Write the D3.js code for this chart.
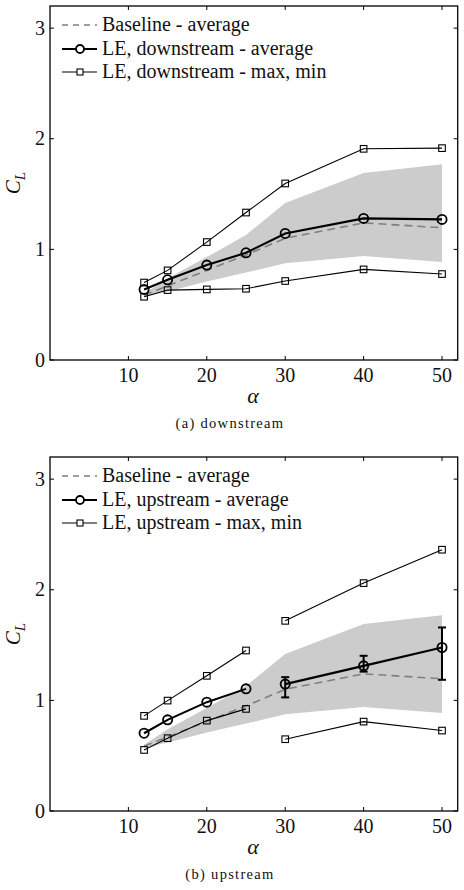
<!DOCTYPE html>
<html>
<head>
<meta charset="utf-8">
<script src="https://cdn.jsdelivr.net/npm/d3@7"></script>
<style>
  body { margin: 0; background: #fff; }
  svg { display: block; }
  svg text { font-family: "Liberation Serif", "DejaVu Serif", "Times New Roman", Times, "Noto Serif", "FreeSerif", serif; }
</style>
</head>
<body>
<div class="charts-div"></div>
<script>
// angle of attack
const alpha = [12, 15, 20, 25, 30, 40, 50];

// baseline (shared by both panels)
const baseAvg = [0.585, 0.67, 0.81, 0.95, 1.10, 1.24, 1.195];
const baseMax = [0.60, 0.74, 0.93, 1.13, 1.42, 1.69, 1.77];
const baseMin = [0.57, 0.62, 0.71, 0.79, 0.875, 0.94, 0.885];

// LE, downstream
const downAvg = [0.638, 0.725, 0.858, 0.969, 1.144, 1.28, 1.271];
const downMax = [0.70, 0.81, 1.066, 1.333, 1.596, 1.909, 1.915];
const downMin = [0.572, 0.632, 0.638, 0.644, 0.714, 0.819, 0.777];

// LE, upstream (two separate runs: 12-25 and 30-50)
const upAvg = [0.703, 0.824, 0.984, 1.104, 1.147, 1.312, 1.478];
const upMax = [0.86, 0.998, 1.222, 1.451, 1.719, 2.06, 2.362];
const upMin = [0.552, 0.658, 0.817, 0.923, 0.649, 0.808, 0.727];
const upRuns = [[0, 4], [4, 7]];
const upErrAlpha = [30, 40, 50];
const upErrHi = [1.21, 1.403, 1.659];
const upErrLo = [1.027, 1.26, 1.186];

const xTicks = [10, 20, 30, 40, 50];
const yTicks = [0, 1, 2, 3];

const W = 464, H = 890;
const svg = d3.select(".charts-div").append("svg")
    .attr("width", W).attr("height", H);

const x = d3.scaleLinear().domain([0, 52]).range([50, 457.7]);

function panel(top, cfg) {
    const y = d3.scaleLinear().domain([0, 3.2]).range([top + 354, top]);
    const g = svg.append("g");
    const pts = (ys, a, b) => d3.range(a, b).map((i) => [alpha[i], ys[i]]);
    const line = d3.line().x((d) => x(d[0])).y((d) => y(d[1]));
    const txt = (sel) => sel.append("text").attr("fill", "#111");

    // baseline band
    const area = d3.area()
        .x((d, i) => x(alpha[i]))
        .y0((d, i) => y(baseMin[i]))
        .y1((d) => y(d));
    g.append("path").attr("d", area(baseMax)).attr("fill", "#cccccc");

    // baseline average
    g.append("path")
        .attr("d", line(pts(baseAvg, 0, alpha.length)))
        .attr("fill", "none").attr("stroke", "#7f7f7f")
        .attr("stroke-width", 1.6).attr("stroke-dasharray", "8,5");

    // max / min
    [cfg.max, cfg.min].forEach((ys) => {
        cfg.runs.forEach(([a, b]) => {
            g.append("path").attr("d", line(pts(ys, a, b)))
                .attr("fill", "none").attr("stroke", "#000").attr("stroke-width", 1.1);
        });
        g.selectAll(null).data(alpha.map((a, i) => [a, ys[i]])).enter()
            .append("rect")
            .attr("x", (d) => x(d[0]) - 3.3).attr("y", (d) => y(d[1]) - 3.3)
            .attr("width", 6.6).attr("height", 6.6)
            .attr("fill", "none").attr("stroke", "#000").attr("stroke-width", 1.1);
    });

    // average
    cfg.runs.forEach(([a, b]) => {
        g.append("path").attr("d", line(pts(cfg.avg, a, b)))
            .attr("fill", "none").attr("stroke", "#000").attr("stroke-width", 2.1);
    });
    g.selectAll(null).data(alpha.map((a, i) => [a, cfg.avg[i]])).enter()
        .append("circle")
        .attr("cx", (d) => x(d[0])).attr("cy", (d) => y(d[1])).attr("r", 4.6)
        .attr("fill", "none").attr("stroke", "#000").attr("stroke-width", 1.8);

    // error bars
    if (cfg.err) {
        cfg.err.a.forEach((a, i) => {
            const cx = x(a);
            const eb = g.append("g").attr("stroke", "#000").attr("stroke-width", 2);
            eb.append("line").attr("x1", cx).attr("x2", cx).attr("y1", y(cfg.err.hi[i])).attr("y2", y(cfg.err.lo[i]));
            [cfg.err.hi[i], cfg.err.lo[i]].forEach((v) => {
                eb.append("line").attr("x1", cx - 4).attr("x2", cx + 4).attr("y1", y(v)).attr("y2", y(v));
            });
        });
    }

    // frame and ticks
    const x0 = x.range()[0], x1 = x.range()[1], y0 = y.range()[0], y1 = y.range()[1];
    g.append("rect").attr("x", x0).attr("y", y1).attr("width", x1 - x0).attr("height", y0 - y1)
        .attr("fill", "none").attr("stroke", "#000").attr("stroke-width", 1.3);
    const tk = g.append("g").attr("stroke", "#000").attr("stroke-width", 1);
    xTicks.forEach((t) => {
        tk.append("line").attr("x1", x(t)).attr("x2", x(t)).attr("y1", y0).attr("y2", y0 - 4);
        tk.append("line").attr("x1", x(t)).attr("x2", x(t)).attr("y1", y1).attr("y2", y1 + 4);
    });
    yTicks.forEach((t) => {
        tk.append("line").attr("x1", x0).attr("x2", x0 + 4).attr("y1", y(t)).attr("y2", y(t));
        tk.append("line").attr("x1", x1).attr("x2", x1 - 4).attr("y1", y(t)).attr("y2", y(t));
    });

    xTicks.forEach((t) => {
        txt(g).attr("x", x(t)).attr("y", y0 + 22)
            .attr("text-anchor", "middle").attr("font-size", 20).text(t);
    });
    yTicks.forEach((t) => {
        txt(g).attr("x", x0 - 5).attr("y", y(t) + 6.5)
            .attr("text-anchor", "end").attr("font-size", 20).text(t);
    });

    txt(g).attr("x", 253).attr("y", y0 + 43)
        .attr("text-anchor", "middle").attr("font-size", 22).attr("font-style", "italic")
        .text("α");
    const yl = txt(g)
        .attr("transform", `translate(20,${top + 177}) rotate(-90)`)
        .attr("text-anchor", "middle").attr("font-size", 21).attr("font-style", "italic");
    yl.append("tspan").text("C");
    yl.append("tspan").attr("font-size", 15).attr("dy", 5).text("L");

    txt(g).attr("x", 230).attr("y", y0 + 68)
        .attr("text-anchor", "middle").attr("font-size", 14.5).attr("letter-spacing", 1.3)
        .text(cfg.caption);

    // legend
    const lg = g.append("g");
    const rows = [top + 19, top + 43, top + 66];
    lg.append("line").attr("x1", 62).attr("x2", 97).attr("y1", rows[0]).attr("y2", rows[0])
        .attr("stroke", "#7f7f7f").attr("stroke-width", 1.6).attr("stroke-dasharray", "6,5");
    lg.append("line").attr("x1", 62).attr("x2", 97).attr("y1", rows[1]).attr("y2", rows[1])
        .attr("stroke", "#000").attr("stroke-width", 2.1);
    lg.append("circle").attr("cx", 80).attr("cy", rows[1]).attr("r", 4)
        .attr("fill", "#fff").attr("stroke", "#000").attr("stroke-width", 1.8);
    lg.append("line").attr("x1", 62).attr("x2", 97).attr("y1", rows[2]).attr("y2", rows[2])
        .attr("stroke", "#000").attr("stroke-width", 1.1);
    lg.append("rect").attr("x", 77).attr("y", rows[2] - 3).attr("width", 6).attr("height", 6)
        .attr("fill", "#fff").attr("stroke", "#000").attr("stroke-width", 1.1);
    cfg.labels.forEach((t, i) => {
        txt(lg).attr("x", 102).attr("y", rows[i] + 6).attr("font-size", 20).text(t);
    });
}

panel(6, {
    avg: downAvg, max: downMax, min: downMin, runs: [[0, 7]],
    caption: "(a) downstream",
    labels: ["Baseline - average", "LE, downstream - average", "LE, downstream - max, min"]
});
panel(457, {
    avg: upAvg, max: upMax, min: upMin, runs: upRuns,
    err: { a: upErrAlpha, hi: upErrHi, lo: upErrLo },
    caption: "(b) upstream",
    labels: ["Baseline - average", "LE, upstream - average", "LE, upstream - max, min"]
});
</script>
</body>
</html>
